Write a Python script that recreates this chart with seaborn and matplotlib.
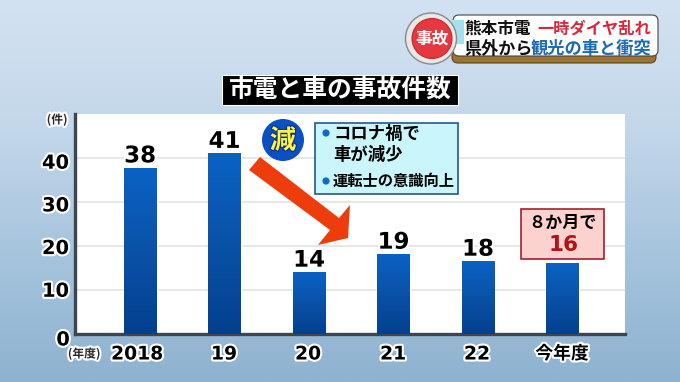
import numpy as np
import matplotlib.pyplot as plt
import matplotlib.patheffects as pe
from matplotlib.colors import LinearSegmentedColormap
from matplotlib.patches import Circle, FancyBboxPatch, Polygon, Rectangle
import seaborn as sns

categories = ['2018', '19', '20', '21', '22', '今年度']
value_labels = [38, 41, 14, 19, 18, 16]
# the drawn bars do not quite follow the printed numbers, heights
bar_heights = [37.8, 41.1, 14.1, 18.2, 16.6, 16.1]
y_ticks = [0, 10, 20, 30, 40]

sns.set_theme(style='white')
plt.rcParams['font.family'] = ['Noto Sans CJK JP', 'DejaVu Sans']

JP = ['Noto Sans CJK JP', 'DejaVu Sans']
NUM = ['DejaVu Sans', 'Noto Sans CJK JP']
halo = [pe.withStroke(linewidth=3, foreground='white')]

fig = plt.figure(figsize=(6.8, 3.82), dpi=100)

# background gradient
bg = fig.add_axes([0, 0, 1, 1], zorder=0)
bg_cmap = LinearSegmentedColormap.from_list('bg', ['#d3e2f2', '#c3d7ea', '#a6c4dd', '#8eb2d0'])
bg.imshow(np.linspace(0, 1, 256).reshape(-1, 1), cmap=bg_cmap, aspect='auto', extent=(0, 680, 382, 0))
bg.set_xlim(0, 680)
bg.set_ylim(382, 0)
bg.axis('off')

# chart
ax = fig.add_axes([75 / 680, 48 / 382, 550 / 680, 220 / 382], zorder=1)
ax.set_facecolor('white')
sns.barplot(x=categories, y=bar_heights, color='#0a55b0', width=0.39, ax=ax)
ax.set_axisbelow(True)
ax.yaxis.grid(True, color='#e3e3de', linewidth=1.2)
ax.xaxis.grid(False)

bar_cmap = LinearSegmentedColormap.from_list('bar', ['#0b62c4', '#0a52a8', '#03408f'])
for bar in ax.patches:
    x0, y0 = bar.get_x(), bar.get_y()
    im = ax.imshow(np.linspace(0, 1, 64).reshape(-1, 1), cmap=bar_cmap, aspect='auto', zorder=3,
                   extent=(x0, x0 + bar.get_width(), y0, y0 + bar.get_height()))
    im.set_clip_path(bar)

ax.set_xlim(-0.77, 5.74)
ax.set_ylim(0, 50)
ax.set_yticks(y_ticks)
ax.set_yticklabels([])
ax.tick_params(length=0, labelbottom=False)
for side in ['top', 'right']:
    ax.spines[side].set_visible(False)
for side in ['left', 'bottom']:
    ax.spines[side].set_color('#3d4650')
    ax.spines[side].set_linewidth(2.4)

for i, (h, v) in enumerate(zip(bar_heights[:-1], value_labels[:-1])):
    ax.text(i, h + 1.2, str(v), ha='center', va='baseline', fontsize=16.5, fontweight='bold',
            family=NUM, color='black', path_effects=halo, zorder=5)

# tick labels, drawn in pixel space with the overlay
ov = fig.add_axes([0, 0, 1, 1], zorder=2)
ov.set_xlim(0, 680)
ov.set_ylim(382, 0)
ov.axis('off')

for t in y_ticks:
    ypx = 334 - t * 4.27 if t else 340
    ov.text(69 if t else 63, ypx, str(t), ha='right' if t else 'center', va='center', fontsize=14,
            fontweight='bold', family=NUM, color='black', path_effects=halo)

tick_x = [137, 224, 308, 393, 477, 562]
for x, c in zip(tick_x, categories):
    if c == '今年度':
        ov.text(x, 354, c, ha='center', va='center', fontsize=12.8, fontweight='bold', family=JP,
                color='black', path_effects=halo)
    else:
        ov.text(x, 354, c, ha='center', va='center', fontsize=13.5, fontweight='bold', family=NUM,
                color='black', path_effects=halo)

ov.text(57, 120, '(件)', ha='center', va='center', fontsize=8.5, fontweight='bold', family=JP, path_effects=halo)
ov.text(84, 354, '(年度)', ha='center', va='center', fontsize=8.5, fontweight='bold', family=JP, path_effects=halo)

# title
ov.add_patch(Rectangle((222, 75), 236, 30, facecolor='black', edgecolor='white', linewidth=0.8))
ov.text(340, 90, '市電と車の事故件数', ha='center', va='center', fontsize=17.8, fontweight='bold', color='white', family=JP)

# arrow
ov.add_patch(Polygon([(260, 157), (339, 218), (350, 205), (348, 238), (318, 245), (330, 230), (249, 170)],
                     facecolor='#ee3d0c', edgecolor='none'))

# 減 badge
ov.add_patch(Circle((283, 140), 21, facecolor='#0a4fc4', edgecolor='none'))
ov.text(283, 141, '減', ha='center', va='center', fontsize=19, fontweight='bold', color='#fff24a', family=JP,
        path_effects=[pe.withStroke(linewidth=1.5, foreground='#0a2f80')])

# reason box
ov.add_patch(Rectangle((315, 123), 143, 71, facecolor='#c9f5fb', edgecolor='#1f5a90', linewidth=1.2))
ov.add_patch(Circle((326, 133), 3.6, facecolor='#0f6cc0', edgecolor='none'))
ov.add_patch(Circle((326, 181), 3.6, facecolor='#0f6cc0', edgecolor='none'))
ov.text(333, 134, 'コロナ禍で', ha='left', va='center', fontsize=12.5, fontweight='bold', color='black', family=JP)
ov.text(333, 155, '車が減少', ha='left', va='center', fontsize=12.5, fontweight='bold', color='black', family=JP)
ov.text(333, 181, '運転士の意識向上', ha='left', va='center', fontsize=11, fontweight='bold', color='black', family=JP)

# 8 months box
ov.add_patch(Rectangle((521, 209), 83, 50, facecolor='#fbd2cd', edgecolor='#a3202c', linewidth=1.2))
ov.text(563, 223, '\uff18か月で', ha='center', va='center', fontsize=12.3, fontweight='bold', color='black', family=JP)
ov.text(564, 245, str(value_labels[-1]), ha='center', va='center', fontsize=15.5, fontweight='bold', color='#b01418', family=NUM)

# news banner
ov.add_patch(FancyBboxPatch((452, 30), 204, 33, boxstyle='round,pad=0,rounding_size=6', facecolor='#9a7430', edgecolor='#5c4520', linewidth=0.8))
ov.add_patch(FancyBboxPatch((453, 15), 205, 41, boxstyle='round,pad=0,rounding_size=6', facecolor='white', edgecolor='#444444', linewidth=0.8))
ov.add_patch(Rectangle((452, 20), 12, 24, facecolor='#a8dfee', edgecolor='none'))
ov.add_patch(Circle((431, 38.5), 25.5, facecolor='#e8e8e8', edgecolor='#8a8a8a', linewidth=1.0))
ov.add_patch(Circle((432, 38.5), 20, facecolor='#e5393f', edgecolor='#c9252c', linewidth=0.8))
ov.text(432, 38.5, '事故', ha='center', va='center', fontsize=12, fontweight='bold', color='white', family=JP)
ov.text(464, 29, '熊本市電', ha='left', va='center', fontsize=12, fontweight='bold', color='#111111', family=JP)
ov.text(537, 29, '一時ダイヤ乱れ', ha='left', va='center', fontsize=11.7, fontweight='bold', color='#d8283c', family=JP)
ov.text(464, 49, '県外から', ha='left', va='center', fontsize=12.3, fontweight='bold', color='#111111', family=JP)
ov.text(531, 49, '観光の車と衝突', ha='left', va='center', fontsize=12.4, fontweight='bold', color='#1c6cb4', family=JP)

plt.savefig('out.png', dpi=100)
